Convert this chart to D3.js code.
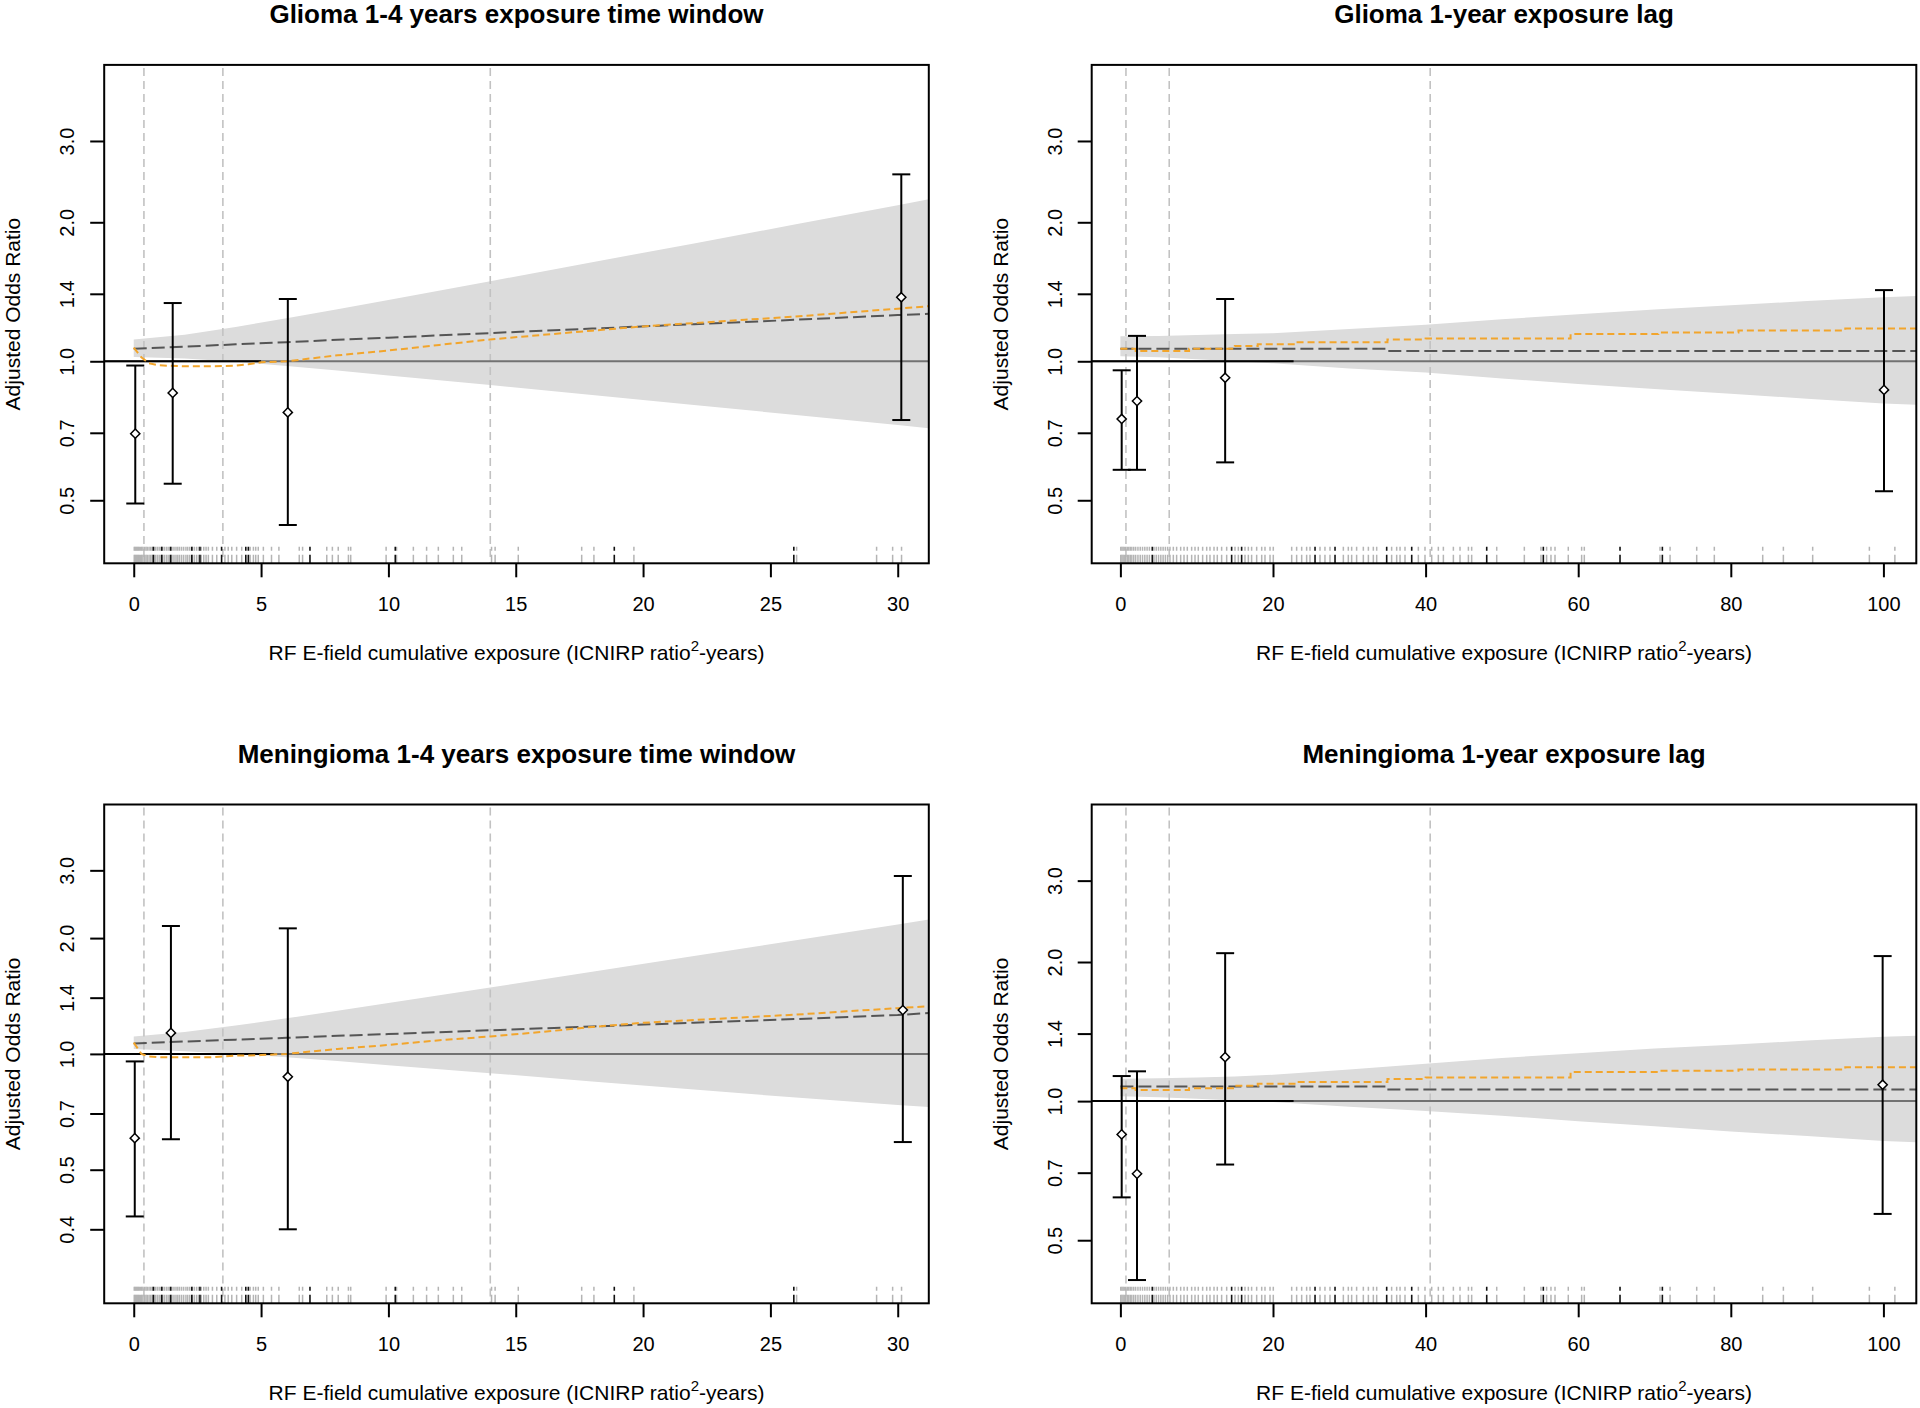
<!DOCTYPE html>
<html><head><meta charset="utf-8">
<script src="https://cdn.jsdelivr.net/npm/d3@7"></script>
<style>
body{margin:0;background:#fff}
svg{display:block}
text{font-family:"Liberation Sans",Arial,sans-serif;fill:#000}
</style>
</head><body>
<svg id="c" width="1920" height="1408"></svg>
<script>
// ---------------- DATA ----------------
const titles = ["Glioma 1-4 years exposure time window", "Glioma 1-year exposure lag",
                "Meningioma 1-4 years exposure time window", "Meningioma 1-year exposure lag"];
const xLabelMain = "RF E-field cumulative exposure (ICNIRP ratio";
const xLabelSup = "2";
const xLabelEnd = "-years)";
const yLabel = "Adjusted Odds Ratio";

const xTicksWindow = [0, 5, 10, 15, 20, 25, 30];
const xTicksLag = [0, 20, 40, 60, 80, 100];
const yTicksA = [0.5, 0.7, 1.0, 1.4, 2.0, 3.0];
const yTickLabelsA = ["0.5", "0.7", "1.0", "1.4", "2.0", "3.0"];
const yTicksB = [0.35, 0.5, 0.7, 1.0, 1.4, 2.0, 3.0];
const yTickLabelsB = ["0.4", "0.5", "0.7", "1.0", "1.4", "2.0", "3.0"];

// category cut points (dashed verticals)
const quantWindow = [0.4, 3.5, 14.0];
const quantLag = [0.73, 6.4, 40.6];

// categorical ORs with 95% CI
const gliomaWinX = [0.06, 1.53, 6.05, 30.14];
const gliomaWinOR = [0.697, 0.854, 0.775, 1.376];
const gliomaWinLo = [0.492, 0.543, 0.442, 0.746];
const gliomaWinHi = [0.979, 1.337, 1.364, 2.54];

const gliomaLagX = [0.17, 2.18, 13.73, 100.08];
const gliomaLagOR = [0.75, 0.82, 0.921, 0.867];
const gliomaLagLo = [0.582, 0.582, 0.604, 0.523];
const gliomaLagHi = [0.956, 1.135, 1.364, 1.426];

const meningWinX = [0.04, 1.46, 6.05, 30.2];
const meningWinOR = [0.604, 1.134, 0.872, 1.30];
const meningWinLo = [0.378, 0.60, 0.35, 0.59];
const meningWinHi = [0.956, 2.15, 2.12, 2.90];

const meningLagX = [0.17, 2.18, 13.73, 99.9];
const meningLagOR = [0.847, 0.696, 1.245, 1.085];
const meningLagLo = [0.619, 0.41, 0.729, 0.57];
const meningLagHi = [1.133, 1.16, 2.09, 2.06];

// continuous model: CI band and fitted line
const bandWinX = [0, 2, 4, 6, 8, 10, 14, 18, 22, 26, 30, 31.22];
const gliomaWinBandHi = [1.115, 1.142, 1.187, 1.239, 1.297, 1.358, 1.49, 1.639, 1.80, 1.98, 2.177, 2.243];
const gliomaWinBandLo = [1.022, 1.014, 0.998, 0.977, 0.955, 0.932, 0.888, 0.845, 0.804, 0.765, 0.728, 0.716];
const gliomaWinFit = [1.064, 1.076, 1.088, 1.10, 1.113, 1.125, 1.151, 1.177, 1.203, 1.23, 1.259, 1.267];
const meningWinBandHi = [1.11, 1.14, 1.185, 1.237, 1.295, 1.356, 1.488, 1.636, 1.797, 1.975, 2.17, 2.235];
const meningWinBandLo = [1.03, 1.016, 1.0, 0.98, 0.958, 0.935, 0.891, 0.848, 0.808, 0.77, 0.736, 0.728];
const meningWinFit = [1.065, 1.077, 1.089, 1.101, 1.114, 1.126, 1.152, 1.178, 1.205, 1.232, 1.262, 1.277];

const bandLagX = [0, 5, 10, 15, 20, 30, 40, 50, 60, 70, 80, 90, 100, 104.31];
const gliomaLagBandHi = [1.133, 1.135, 1.14, 1.145, 1.15, 1.175, 1.20, 1.233, 1.265, 1.294, 1.322, 1.35, 1.376, 1.385];
const gliomaLagBandLo = [1.025, 1.02, 1.01, 1.0, 0.99, 0.965, 0.945, 0.918, 0.893, 0.871, 0.85, 0.83, 0.81, 0.805];
const meningLagBandHi = [1.118, 1.12, 1.125, 1.13, 1.14, 1.17, 1.205, 1.24, 1.27, 1.30, 1.325, 1.352, 1.378, 1.385];
const meningLagBandLo = [1.025, 1.02, 1.012, 1.003, 0.995, 0.972, 0.952, 0.93, 0.905, 0.882, 0.86, 0.84, 0.82, 0.815];

const fitLagX = [0, 34.6, 104.31];
const gliomaLagFit = [1.064, 1.053, 1.053];
const meningLagFit = [1.075, 1.059, 1.059];

// spline (orange) estimates
const splineWinX = [0, 0.3, 0.6, 1, 2, 3, 4, 4.5, 5, 6, 8, 10, 12, 14, 16, 18, 20, 22, 24, 26, 28, 30, 31.22];
const gliomaWinSpline = [1.07, 1.02, 0.99, 0.98, 0.975, 0.975, 0.978, 0.985, 0.995, 1.0, 1.03, 1.055, 1.085, 1.115, 1.14, 1.165, 1.19, 1.21, 1.23, 1.25, 1.275, 1.30, 1.316];
const meningWinSpline = [1.07, 1.0, 0.985, 0.98, 0.98, 0.98, 0.99, 0.99, 0.993, 1.0, 1.03, 1.055, 1.085, 1.11, 1.14, 1.175, 1.205, 1.225, 1.245, 1.265, 1.29, 1.315, 1.33];
const splineLagX = [0, 2, 9, 15, 18, 23, 35, 40, 59, 70.5, 81, 95, 104.31];
const gliomaLagSpline = [1.064, 1.053, 1.064, 1.079, 1.088, 1.10, 1.115, 1.12, 1.146, 1.154, 1.166, 1.177, 1.177];
const meningLagSpline = [1.066, 1.057, 1.066, 1.08, 1.09, 1.10, 1.117, 1.125, 1.156, 1.163, 1.171, 1.184, 1.184];

// reference line drawn black up to this exposure
const refBlackWin = [5.0, 5.5];
const refBlackLag = [22.7, 22.7];

// rug of individual exposures
const rugWinGray = [0.02, 0.06, 0.1, 0.14, 0.18, 0.22, 0.27, 0.31, 0.36, 0.42, 0.48, 0.53, 0.6, 0.66, 0.72, 0.8, 0.86, 0.93, 1.0, 1.07, 1.13, 1.2, 1.28, 1.35, 1.42, 1.5, 1.58, 1.66, 1.73, 1.8, 1.88, 1.96, 2.05, 2.12, 2.2, 2.3, 2.38, 2.47, 2.55, 2.65, 2.75, 2.84,
  2.93, 3.09, 3.26, 3.58, 3.71, 3.85, 4.04, 4.24, 4.57, 4.70, 4.79, 4.89, 5.09, 5.41, 5.70, 6.50, 6.63, 7.58, 7.80, 8.03, 8.43, 8.52, 9.91, 10.32, 10.98, 11.50, 11.96, 12.55, 12.88, 14.05, 14.19, 15.1, 17.59, 18.07, 19.64, 26.03, 29.17, 29.80, 30.15];
const rugWinBlack = [0.77, 1.1, 1.45, 2.28, 2.6, 3.45, 4.4, 4.5, 6.92, 10.27, 18.87, 25.92];
const rugLagGray = [0.05, 0.2, 0.35, 0.5, 0.7, 0.9, 1.1, 1.3, 1.5, 1.75, 2.0, 2.3, 2.6, 2.9, 3.2, 3.5, 3.8, 4.4, 4.7, 5.0, 5.3, 5.6, 5.9, 6.2, 6.5,
  6.94, 7.37, 7.90, 8.34, 8.77, 9.34, 9.78, 10.21, 10.78, 11.31, 11.74, 12.27, 12.70, 13.27, 13.93, 15.02, 15.46, 16.33, 16.77, 17.20, 17.86, 18.52, 18.95, 19.61, 20.04,
  22.45, 23.10, 23.76, 24.41, 24.85, 26.16, 26.81, 27.47, 29.22, 29.87, 30.31, 30.96, 31.84, 32.50, 33.15, 33.59, 35.55, 36.21, 36.65, 37.30, 39.05, 39.92, 40.80, 41.67, 42.33, 43.64, 44.51, 45.61, 46.04, 49.32,
  52.94, 55.12, 55.86, 56.43, 56.96, 58.70, 60.45, 60.80, 70.72, 72.04, 75.53, 77.84, 84.18, 86.89, 90.73, 98.16, 101.5];
const rugLagBlack = [4.18, 14.58, 15.89, 25.51, 28.13, 34.90, 38.18, 48.01, 55.43, 65.48, 71.03];

// ---------------- LAYOUT ----------------
const panels = [
  {title: titles[0], box: [104.2, 64.9, 928.8, 563.3], xDom: [-1.16, 31.22], yDom: [Math.exp(-1.0075), Math.exp(1.478)],
   xTicks: xTicksWindow, yTicks: yTicksA, yTickLabels: yTickLabelsA, quant: quantWindow,
   px: gliomaWinX, por: gliomaWinOR, plo: gliomaWinLo, phi: gliomaWinHi,
   bx: bandWinX, bhi: gliomaWinBandHi, blo: gliomaWinBandLo, fx: bandWinX, fit: gliomaWinFit,
   sx: splineWinX, spl: gliomaWinSpline, step: false, refBlack: refBlackWin[0], rugG: rugWinGray, rugB: rugWinBlack},
  {title: titles[1], box: [1091.7, 64.9, 1916.3, 563.3], xDom: [-3.76, 104.31], yDom: [Math.exp(-1.0075), Math.exp(1.478)],
   xTicks: xTicksLag, yTicks: yTicksA, yTickLabels: yTickLabelsA, quant: quantLag,
   px: gliomaLagX, por: gliomaLagOR, plo: gliomaLagLo, phi: gliomaLagHi,
   bx: bandLagX, bhi: gliomaLagBandHi, blo: gliomaLagBandLo, fx: fitLagX, fit: gliomaLagFit,
   sx: splineLagX, spl: gliomaLagSpline, step: true, refBlack: refBlackLag[0], rugG: rugLagGray, rugB: rugLagBlack},
  {title: titles[2], box: [104.2, 804.5, 928.8, 1303.3], xDom: [-1.16, 31.22], yDom: [Math.exp(-1.4927), Math.exp(1.4927)],
   xTicks: xTicksWindow, yTicks: yTicksB, yTickLabels: yTickLabelsB, quant: quantWindow,
   px: meningWinX, por: meningWinOR, plo: meningWinLo, phi: meningWinHi,
   bx: bandWinX, bhi: meningWinBandHi, blo: meningWinBandLo, fx: bandWinX, fit: meningWinFit,
   sx: splineWinX, spl: meningWinSpline, step: false, refBlack: refBlackWin[1], rugG: rugWinGray, rugB: rugWinBlack},
  {title: titles[3], box: [1091.7, 804.5, 1916.3, 1303.3], xDom: [-3.76, 104.31], yDom: [Math.exp(-1.0075), Math.exp(1.478)],
   xTicks: xTicksLag, yTicks: yTicksA, yTickLabels: yTickLabelsA, quant: quantLag,
   px: meningLagX, por: meningLagOR, plo: meningLagLo, phi: meningLagHi,
   bx: bandLagX, bhi: meningLagBandHi, blo: meningLagBandLo, fx: fitLagX, fit: meningLagFit,
   sx: splineLagX, spl: meningLagSpline, step: true, refBlack: refBlackLag[1], rugG: rugLagGray, rugB: rugLagBlack}
];

const svg = d3.select("#c");
const defs = svg.append("defs");

panels.forEach((p, i) => {
  const [x0, y0, x1, y1] = p.box;
  const x = d3.scaleLinear().domain(p.xDom).range([x0, x1]);
  const y = d3.scaleLog().domain(p.yDom).range([y1, y0]);
  const g = svg.append("g");
  defs.append("clipPath").attr("id", "clip" + i).append("rect")
    .attr("x", x0).attr("y", y0).attr("width", x1 - x0).attr("height", y1 - y0);
  const pg = g.append("g").attr("clip-path", `url(#clip${i})`);
  const curve = p.step ? d3.curveStepAfter : d3.curveLinear;

  // CI band
  const band = p.bx.map((v, j) => ({x: v, lo: p.blo[j], hi: p.bhi[j]}));
  pg.append("path").datum(band)
    .attr("d", d3.area().x(d => x(d.x)).y0(d => y(d.lo)).y1(d => y(d.hi)))
    .attr("fill", "#dcdcdc");

  // category cut lines
  pg.selectAll("line.q").data(p.quant).join("line").attr("class", "q")
    .attr("x1", d => x(d)).attr("x2", d => x(d)).attr("y1", y0 + 3).attr("y2", y1)
    .attr("stroke", "#c2c2c2").attr("stroke-width", 1.6).attr("stroke-dasharray", "8,5");

  // reference line OR = 1
  pg.append("line").attr("x1", x0).attr("x2", x1).attr("y1", y(1)).attr("y2", y(1))
    .attr("stroke", "#727272").attr("stroke-width", 2);
  pg.append("line").attr("x1", x0).attr("x2", x(p.refBlack)).attr("y1", y(1)).attr("y2", y(1))
    .attr("stroke", "#000").attr("stroke-width", 2);

  // fitted linear model
  const fit = p.fx.map((v, j) => ({x: v, y: p.fit[j]}));
  pg.append("path").datum(fit)
    .attr("d", d3.line().curve(curve).x(d => x(d.x)).y(d => y(d.y)))
    .attr("fill", "none").attr("stroke", "#555").attr("stroke-width", 2).attr("stroke-dasharray", "13,5");

  // spline estimate
  const spl = p.sx.map((v, j) => ({x: v, y: p.spl[j]}));
  pg.append("path").datum(spl)
    .attr("d", d3.line().curve(curve).x(d => x(d.x)).y(d => y(d.y)))
    .attr("fill", "none").attr("stroke", "#f2a52c").attr("stroke-width", 2).attr("stroke-dasharray", "7,4");

  // rug
  pg.selectAll("line.rg").data(p.rugG).join("line").attr("class", "rg")
    .attr("x1", d => x(d)).attr("x2", d => x(d)).attr("y1", y1).attr("y2", y1 - 16.5)
    .attr("stroke", "#b4b4b4").attr("stroke-width", 1.5).attr("stroke-dasharray", "8.5,4,4");
  pg.selectAll("line.rb").data(p.rugB).join("line").attr("class", "rb")
    .attr("x1", d => x(d)).attr("x2", d => x(d)).attr("y1", y1).attr("y2", y1 - 16.5)
    .attr("stroke", "#111").attr("stroke-width", 1.6).attr("stroke-dasharray", "8.5,4,4");

  // categorical estimates with CI
  const pts = p.px.map((v, j) => ({x: v, or: p.por[j], lo: p.plo[j], hi: p.phi[j]}));
  const eg = g.append("g");
  eg.selectAll("line.v").data(pts).join("line").attr("class", "v")
    .attr("x1", d => x(d.x)).attr("x2", d => x(d.x)).attr("y1", d => y(d.lo)).attr("y2", d => y(d.hi))
    .attr("stroke", "#000").attr("stroke-width", 2);
  eg.selectAll("line.ch").data(pts).join("line").attr("class", "ch")
    .attr("x1", d => x(d.x) - 9).attr("x2", d => x(d.x) + 9).attr("y1", d => y(d.hi)).attr("y2", d => y(d.hi))
    .attr("stroke", "#000").attr("stroke-width", 2);
  eg.selectAll("line.cl").data(pts).join("line").attr("class", "cl")
    .attr("x1", d => x(d.x) - 9).attr("x2", d => x(d.x) + 9).attr("y1", d => y(d.lo)).attr("y2", d => y(d.lo))
    .attr("stroke", "#000").attr("stroke-width", 2);
  const r = 4.6;
  eg.selectAll("path.pt").data(pts).join("path").attr("class", "pt")
    .attr("transform", d => `translate(${x(d.x)},${y(d.or)})`)
    .attr("d", `M0,${-r}L${r},0L0,${r}L${-r},0Z`)
    .attr("fill", "#fff").attr("stroke", "#000").attr("stroke-width", 1.5);

  // box
  g.append("rect").attr("x", x0).attr("y", y0).attr("width", x1 - x0).attr("height", y1 - y0)
    .attr("fill", "none").attr("stroke", "#000").attr("stroke-width", 2);

  // x axis
  const xa = g.append("g").attr("transform", `translate(0,${y1})`)
    .call(d3.axisBottom(x).tickValues(p.xTicks).tickSize(14).tickFormat(d3.format("d")));
  xa.select(".domain").remove();
  xa.selectAll(".tick line").attr("stroke", "#000").attr("stroke-width", 2);
  xa.selectAll(".tick text").attr("y", 48).attr("dy", 0)
    .style("font-size", "20px").style("font-family", '"Liberation Sans",Arial,sans-serif').attr("fill", "#000");

  // y axis
  const ya = g.append("g").attr("transform", `translate(${x0},0)`)
    .call(d3.axisLeft(y).tickValues(p.yTicks).tickSize(14).tickFormat((d, j) => p.yTickLabels[j]));
  ya.select(".domain").remove();
  ya.selectAll(".tick line").attr("stroke", "#000").attr("stroke-width", 2);
  ya.selectAll(".tick text").attr("x", 0).attr("y", 0).attr("dy", 0)
    .attr("transform", "translate(-30,0) rotate(-90)").attr("text-anchor", "middle")
    .style("font-size", "20px").style("font-family", '"Liberation Sans",Arial,sans-serif').attr("fill", "#000");

  // title
  g.append("text").attr("x", (x0 + x1) / 2).attr("y", y0 - 42).attr("text-anchor", "middle")
    .style("font-size", "26px").style("font-weight", "bold").text(p.title);

  // x label
  const xl = g.append("text").attr("x", (x0 + x1) / 2).attr("y", y1 + 97).attr("text-anchor", "middle")
    .style("font-size", "21px");
  xl.append("tspan").text(xLabelMain);
  xl.append("tspan").attr("dy", -9).style("font-size", "15px").text(xLabelSup);
  xl.append("tspan").attr("dy", 9).text(xLabelEnd);

  // y label
  g.append("text").attr("transform", `translate(${x0 - 84},${(y0 + y1) / 2}) rotate(-90)`)
    .attr("text-anchor", "middle").style("font-size", "21px").text(yLabel);
});
</script>
</body></html>
